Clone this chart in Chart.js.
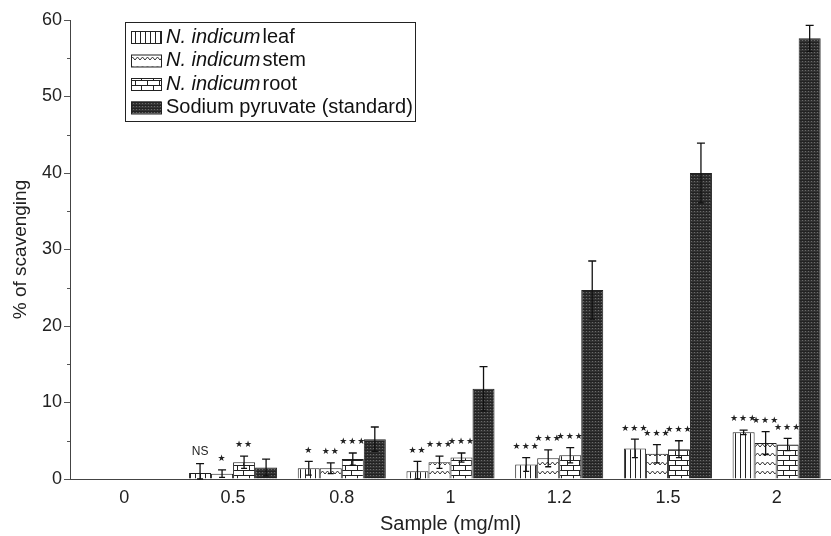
<!DOCTYPE html>
<html>
<head>
<meta charset="UTF-8">
<title>Scavenging</title>
<style>
  body { margin: 0; background: #fff; }
  #wrap { width: 831px; height: 536px; }
</style>
</head>
<body>
<div id="wrap"><canvas id="chart" width="831" height="536"></canvas></div>
<script src="https://cdn.jsdelivr.net/npm/chart.js"></script>
<script>
const categories = ['0', '0.5', '0.8', '1', '1.2', '1.5', '2'];
const yTicks = [0, 10, 20, 30, 40, 50, 60];

const leafVals = [null, 0.8, 1.4, 1.0, 1.9, 4.0, 6.1];
const leafErr  = [null, 1.2, 0.9, 1.3, 0.9, 1.2, 0.3];
const stemVals = [null, 0.7, 1.4, 2.2, 2.7, 3.3, 4.7];
const stemErr  = [null, 0.5, 0.7, 0.8, 1.1, 1.2, 1.5];
const rootVals = [null, 2.2, 2.6, 2.8, 3.1, 3.9, 4.5];
const rootErr  = [null, 0.8, 0.8, 0.6, 1.0, 1.1, 0.8];
const stdVals  = [null, 1.5, 5.2, 11.8, 24.7, 40.0, 57.6];
const stdErr   = [null, 1.1, 1.6, 2.9, 3.8, 3.9, 1.7];

const leafSig = ['', 'NS', '*', '**', '***', '***', '***'];
const stemSig = ['', '*', '**', '***', '***', '***', '***'];
const rootSig = ['', '**', '***', '***', '***', '***', '***'];
const stdSig  = ['', '', '', '', '', '', ''];

const seriesNames = ['leaf', 'stem', 'root', 'Sodium pyruvate (standard)'];

// hatch patterns
function makePattern(kind) {
  const c = document.createElement('canvas');
  const g = c.getContext('2d');
  if (kind === 'leaf') {
    c.width = 5; c.height = 4;
    g.fillStyle = '#fff'; g.fillRect(0, 0, 5, 4);
    g.fillStyle = '#222'; g.fillRect(0, 0, 1, 4);
  } else if (kind === 'stem') {
    c.width = 10; c.height = 9;
    g.fillStyle = '#fff'; g.fillRect(0, 0, 10, 9);
    g.strokeStyle = '#333'; g.lineWidth = 1;
    g.beginPath();
    g.moveTo(0, 6); g.lineTo(2.5, 3); g.lineTo(5, 6); g.lineTo(7.5, 3); g.lineTo(10, 6);
    g.stroke();
  } else if (kind === 'root') {
    c.width = 12; c.height = 10;
    g.fillStyle = '#fff'; g.fillRect(0, 0, 12, 10);
    g.fillStyle = '#222';
    g.fillRect(0, 0, 12, 1);
    g.fillRect(0, 5, 12, 1);
    g.fillRect(3, 0, 1, 5);
    g.fillRect(9, 5, 1, 5);
  } else {
    c.width = 3; c.height = 3;
    g.fillStyle = '#333'; g.fillRect(0, 0, 3, 3);
    g.fillStyle = '#6a6a6a'; g.fillRect(1, 1, 1, 1);
    g.fillStyle = '#222'; g.fillRect(0, 0, 3, 1);
  }
  return document.createElement('canvas').getContext('2d').createPattern(c, 'repeat');
}

const patterns = [makePattern('leaf'), makePattern('stem'), makePattern('root'), makePattern('std')];
const errs = [leafErr, stemErr, rootErr, stdErr];
const sigs = [leafSig, stemSig, rootSig, stdSig];

const extras = {
  id: 'extras',
  afterDatasetsDraw(chart) {
    const ctx = chart.ctx;
    const y = chart.scales.y;
    ctx.save();
    // error bars + significance
    chart.data.datasets.forEach((ds, di) => {
      const meta = chart.getDatasetMeta(di);
      meta.data.forEach((bar, i) => {
        const v = ds.data[i];
        if (v === null) return;
        const e = errs[di][i];
        const yt = y.getPixelForValue(v + e);
        const yb = y.getPixelForValue(Math.max(v - e, 0));
        ctx.strokeStyle = '#111';
        ctx.lineWidth = 1.3;
        ctx.beginPath();
        ctx.moveTo(bar.x, yt); ctx.lineTo(bar.x, yb);
        ctx.moveTo(bar.x - 4, yt); ctx.lineTo(bar.x + 4, yt);
        ctx.moveTo(bar.x - 3, yb); ctx.lineTo(bar.x + 3, yb);
        ctx.stroke();
        const s = sigs[di][i];
        if (s) {
          ctx.fillStyle = '#222';
          ctx.textAlign = 'center';
          ctx.textBaseline = 'middle';
          if (s === 'NS') {
            ctx.font = '12px "Liberation Sans"';
            ctx.letterSpacing = '0px';
            ctx.fillText(s, bar.x, yt - 12);
          } else {
            ctx.font = '9px "DejaVu Sans"';
            ctx.letterSpacing = '1px';
            ctx.fillText(s.replace(/\*/g, '\u2605'), bar.x, yt - 11);
          }
        }
      });
    });
    ctx.letterSpacing = '0px';
    // minor y ticks
    ctx.strokeStyle = '#555';
    ctx.lineWidth = 1;
    for (let v = 5; v < 60; v += 10) {
      const py = Math.round(y.getPixelForValue(v)) + 0.5;
      ctx.beginPath();
      ctx.moveTo(y.right - 3, py); ctx.lineTo(y.right, py);
      ctx.stroke();
    }
    // legend
    const lx = 125, ly = 22, lw = 290, lh = 99;
    ctx.fillStyle = '#fff';
    ctx.fillRect(lx, ly, lw, lh);
    ctx.strokeStyle = '#222';
    ctx.strokeRect(lx + 0.5, ly + 0.5, lw, lh);
    ctx.textAlign = 'left';
    ctx.textBaseline = 'middle';
    seriesNames.forEach((name, i) => {
      const rowY = ly + 15 + i * 23.5;
      ctx.fillStyle = patterns[i];
      ctx.fillRect(lx + 6, rowY - 6, 30, 12);
      ctx.strokeStyle = '#222';
      ctx.strokeRect(lx + 6.5, rowY - 5.5, 30, 12);
      ctx.fillStyle = '#111';
      let tx = lx + 41;
      if (i < 3) {
        ctx.font = 'italic 20px "Liberation Sans"';
        ctx.fillText('N. indicum', tx, rowY);
        tx += ctx.measureText('N. indicum').width + 2;
      }
      ctx.font = '20px "Liberation Sans"';
      ctx.fillText(name, tx, rowY);
    });
    ctx.restore();
  }
};

new Chart(document.getElementById('chart').getContext('2d'), {
  type: 'bar',
  data: {
    labels: categories,
    datasets: [leafVals, stemVals, rootVals, stdVals].map((d, i) => ({
      label: seriesNames[i],
      data: d,
      backgroundColor: patterns[i],
      borderColor: '#222',
      borderWidth: 1,
      categoryPercentage: 0.81,
      barPercentage: 1.0
    }))
  },
  options: {
    responsive: false,
    animation: false,
    layout: { padding: { top: 20, right: 0, left: 0, bottom: 0 } },
    plugins: { legend: { display: false }, tooltip: { enabled: false } },
    scales: {
      x: {
        afterFit: s => { s.height = 57; },
        grid: { display: false, drawTicks: false },
        border: { color: '#444', width: 1 },
        ticks: { color: '#222', font: { family: 'Liberation Sans', size: 18 }, padding: 8 },
        title: { display: true, text: 'Sample (mg/ml)', color: '#222', font: { family: 'Liberation Sans', size: 20 }, padding: { top: 0, bottom: 0 } }
      },
      y: {
        min: 0, max: 60,
        afterFit: s => { s.width = 70; },
        afterBuildTicks: s => { s.ticks = yTicks.map(v => ({ value: v })); },
        grid: { drawOnChartArea: false, tickLength: 6, color: '#555' },
        border: { color: '#444', width: 1 },
        ticks: { color: '#222', font: { family: 'Liberation Sans', size: 18 }, padding: 2 },
        title: { display: true, text: '% of scavenging', color: '#222', font: { family: 'Liberation Sans', size: 19 }, padding: { top: 9, bottom: 0 } }
      }
    }
  },
  plugins: [extras]
});
</script>
</body>
</html>
